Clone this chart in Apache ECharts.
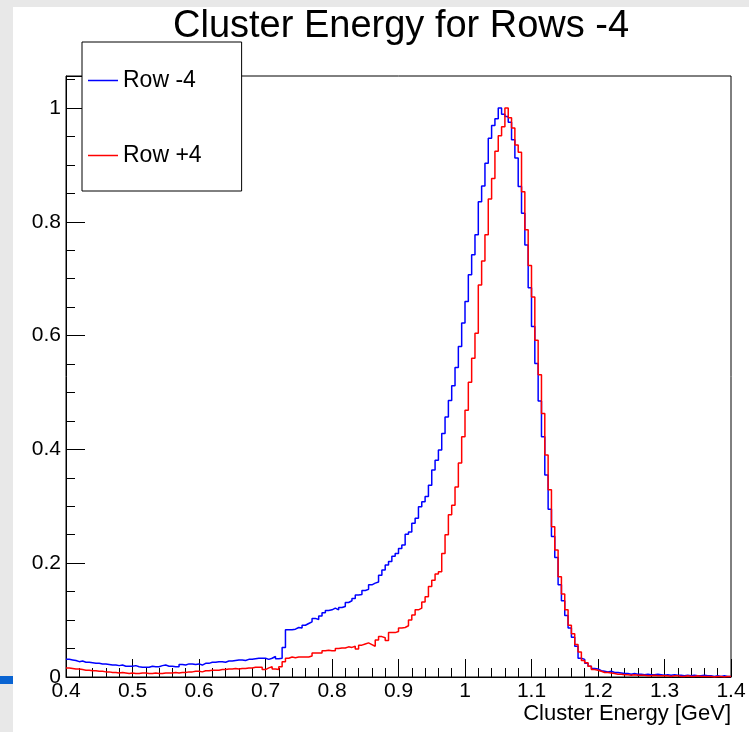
<!DOCTYPE html>
<html>
<head>
<meta charset="utf-8">
<script src="https://cdn.jsdelivr.net/npm/echarts@6/dist/echarts.min.js"></script>
<style>
html,body{margin:0;padding:0;background:#fff;}
#chart{width:749px;height:732px;}
</style>
</head>
<body>
<div id="chart"></div>
<script>
// Histogram binning (0.4 .. 1.4 GeV, 200 bins)
const binLow = 0.4;
const binHigh = 1.4;
const nBins = 200;

const seriesNames = ['Row -4', 'Row +4'];

// Row -4 (normalized counts per bin)
const rowMinus4 = [
  0.031,0.030,0.029,0.027,0.028,0.026,0.026,0.025,0.024,0.024,
  0.023,0.023,0.022,0.021,0.021,0.020,0.021,0.019,0.019,0.019,
  0.020,0.018,0.017,0.017,0.017,0.019,0.018,0.018,0.020,0.021,
  0.019,0.019,0.018,0.018,0.022,0.021,0.023,0.023,0.022,0.023,
  0.021,0.024,0.024,0.026,0.026,0.027,0.027,0.026,0.028,0.028,
  0.029,0.030,0.030,0.029,0.031,0.031,0.032,0.033,0.033,
  0.033,0.031,0.033,0.036,0.032,0.033,0.052,0.083,0.083,0.084,
  0.087,0.086,0.091,0.094,0.097,0.103,0.101,0.107,0.113,0.117,
  0.118,0.121,0.118,0.122,0.124,0.131,0.134,0.138,0.144,0.145,
  0.152,0.154,0.162,0.165,0.167,0.179,0.188,0.197,0.203,0.212,
  0.217,0.226,0.232,0.251,0.255,0.270,0.279,0.299,0.308,0.317,
  0.337,0.364,0.381,0.399,0.428,0.457,0.486,0.512,0.544,0.581,
  0.622,0.660,0.707,0.742,0.777,0.835,0.863,0.903,0.947,0.969,
  0.981,1.000,0.989,0.985,0.975,0.944,0.912,0.862,0.815,0.759,
  0.684,0.616,0.551,0.485,0.422,0.355,0.295,0.247,0.210,0.162,
  0.134,0.108,0.086,0.070,0.054,0.033,0.031,0.024,0.019,0.015,
  0.014,0.011,
  0.010,0.009,0.010,0.008,0.008,0.007,0.006,0.006,0.005,0.006,
  0.005,0.005,0.004,0.005,0.004,0.004,0.005,0.004,0.003,0.004,
  0.003,0.004,0.003,0.003,0.002,0.003,0.002,0.003,0.002,0.002,
  0.003,0.002,0.002,0.001,0.002,0.001,0.002,0.001,0.001
];

// Row +4 (normalized counts per bin)
const rowPlus4 = [
  0.016,0.015,0.014,0.014,0.013,0.012,0.012,0.011,0.011,0.010,
  0.010,0.009,0.009,0.008,0.008,0.007,0.008,0.007,0.006,0.007,
  0.006,0.006,0.007,0.007,0.006,0.006,0.007,0.006,0.006,0.007,
  0.007,0.007,0.008,0.007,0.008,0.008,0.009,0.009,0.010,0.010,
  0.009,0.011,0.011,0.012,0.012,0.012,0.013,0.013,0.014,0.014,
  0.015,0.014,0.015,0.015,0.016,0.016,0.017,0.017,0.017,
  0.013,0.016,0.018,0.014,0.013,0.018,0.027,0.033,0.035,0.034,
  0.035,0.035,0.035,0.035,0.037,0.042,0.042,0.042,0.046,0.047,
  0.046,0.046,0.050,0.051,0.051,0.053,0.052,0.054,0.049,0.056,
  0.058,0.060,0.057,0.054,0.065,0.071,0.069,0.064,0.078,0.078,
  0.080,0.086,0.087,0.090,0.100,0.109,0.118,0.121,0.132,0.141,
  0.159,0.170,0.181,0.185,0.217,0.250,0.285,0.302,0.334,0.376,
  0.422,0.469,0.518,0.560,0.604,0.689,0.731,0.777,0.840,0.876,
  0.924,0.951,0.967,1.000,0.983,0.965,0.935,0.922,0.853,0.786,
  0.723,0.668,0.592,0.531,0.463,0.390,0.329,0.264,0.223,0.176,
  0.146,0.118,0.091,0.076,0.057,0.044,0.029,0.025,0.019,0.013,
  0.012,0.010,
  0.008,0.008,0.007,0.006,0.005,0.005,0.004,0.004,0.003,0.004,
  0.003,0.003,0.003,0.002,0.002,0.003,0.002,0.002,0.002,0.002,
  0.001,0.002,0.002,0.001,0.001,0.002,0.001,0.001,0.002,0.001,
  0.001,0.001,0.001,0.000,0.001,0.001,0.000,0.001,0.001
];

const xTickLabels = ['0.4','0.5','0.6','0.7','0.8','0.9','1','1.1','1.2','1.3','1.4'];
const yTickLabels = ['0','0.2','0.4','0.6','0.8','1'];

function histPoints(vals) {
  const w = (binHigh - binLow) / nBins;
  const pts = vals.map((v, k) => [binLow + k * w, v]);
  pts.push([binHigh, vals[vals.length - 1]]);
  return pts;
}

const FONT = "'Liberation Sans', Arial, Helvetica, sans-serif";
const chart = echarts.init(document.getElementById('chart'), null, {renderer: 'canvas'});

const option = {
  animation: false,
  backgroundColor: '#ffffff',
  title: {
    text: 'Cluster Energy for Rows -4',
    left: 168,
    top: 3,
    textStyle: {fontFamily: FONT, fontSize: 38, fontWeight: 'normal', color: '#000'}
  },
  legend: {
    left: 82,
    top: 42,
    orient: 'vertical',
    backgroundColor: '#fff',
    borderColor: '#000',
    borderWidth: 1,
    borderRadius: 0,
    padding: [27, 40, 24, 6],
    itemGap: 52,
    itemWidth: 30,
    itemHeight: 1.5,
    icon: 'rect',
    textStyle: {fontFamily: FONT, fontSize: 23, color: '#000', padding: [0,0,0,0]},
    data: seriesNames
  },
  grid: {
    left: 66, right: 18, top: 76, bottom: 55,
    show: true, borderColor: '#000', borderWidth: 1, backgroundColor: 'transparent'
  },
  xAxis: {
    type: 'value',
    min: 0.4, max: 1.4, interval: 0.1,
    name: 'Cluster Energy [GeV]',
    nameLocation: 'end',
    nameGap: 0,
    nameTextStyle: {fontFamily: FONT, fontSize: 22, color: '#000', align: 'right', verticalAlign: 'top', padding: [26, 0, 0, 0]},
    axisLine: {show: true, onZero: false, lineStyle: {color: '#000', width: 1}},
    axisTick: {show: true, inside: true, length: 18, lineStyle: {color: '#000', width: 1}},
    minorTick: {show: true, splitNumber: 5, length: 9, lineStyle: {color: '#000', width: 1}},
    splitLine: {show: false},
    axisLabel: {
      fontFamily: FONT, fontSize: 21, color: '#000', margin: 4,
      formatter: function (v) {
        const i = Math.round((v - 0.4) / 0.1);
        return xTickLabels[i] !== undefined ? xTickLabels[i] : '';
      }
    }
  },
  yAxis: {
    type: 'value',
    min: 0, max: 1.0562, interval: 0.2,
    axisLine: {show: true, onZero: false, lineStyle: {color: '#000', width: 1}},
    axisTick: {show: true, inside: true, length: 19, lineStyle: {color: '#000', width: 1}},
    minorTick: {show: true, splitNumber: 4, length: 9, lineStyle: {color: '#000', width: 1}},
    splitLine: {show: false},
    axisLabel: {
      fontFamily: FONT, fontSize: 21, color: '#000', margin: 5,
      showMaxLabel: false,
      formatter: function (v) {
        const i = Math.round(v / 0.2);
        if (Math.abs(v - i * 0.2) > 1e-6) return '';
        return yTickLabels[i] !== undefined ? yTickLabels[i] : '';
      }
    }
  },
  series: [
    {
      name: seriesNames[0], type: 'line', step: 'end', symbol: 'none',
      data: histPoints(rowMinus4),
      lineStyle: {color: '#0000ff', width: 1.5},
      itemStyle: {color: '#0000ff'},
      z: 3
    },
    {
      name: seriesNames[1], type: 'line', step: 'end', symbol: 'none',
      data: histPoints(rowPlus4),
      lineStyle: {color: '#ff0000', width: 1.5},
      itemStyle: {color: '#ff0000'},
      z: 4
    }
  ],
  graphic: [
    {type: 'rect', left: 0, top: 0, shape: {width: 749, height: 7}, style: {fill: '#e8e8e8'}, silent: true, z: 100},
    {type: 'rect', left: 0, top: 0, shape: {width: 13, height: 732}, style: {fill: '#e8e8e8'}, silent: true, z: 100},
    {type: 'rect', left: 0, top: 676, shape: {width: 13, height: 8}, style: {fill: '#0a64d2'}, silent: true, z: 101}
  ]
};
chart.setOption(option);
</script>
</body>
</html>
